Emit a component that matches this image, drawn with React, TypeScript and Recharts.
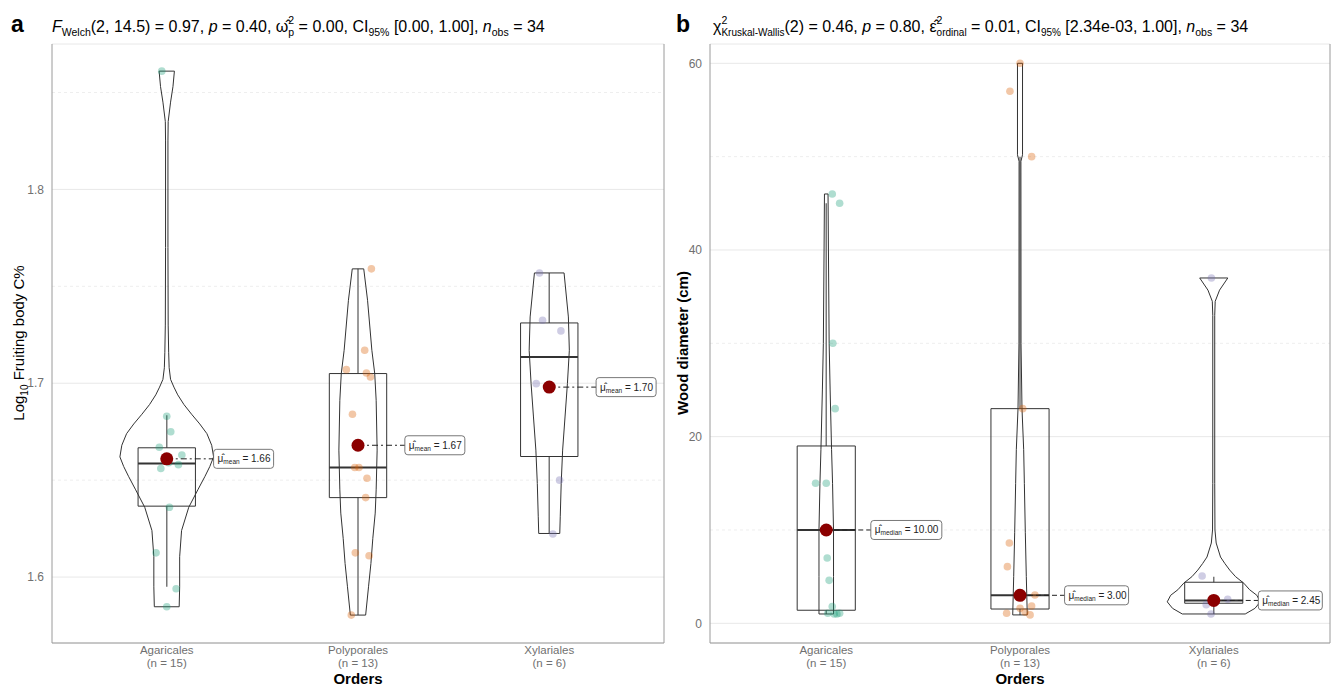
import React from 'react';
import { ComposedChart, Scatter, XAxis, YAxis, CartesianGrid, ReferenceLine } from 'recharts';

const FONT = '"Liberation Sans", Arial, Helvetica, sans-serif';

const orders = ['Agaricales', 'Polyporales', 'Xylariales'];
const orderCounts = [15, 13, 6];
const orderColors = ['#1b9e77', '#d95f02', '#7570b3'];

// ---- panel a: log10 fruiting body C% ----
const carbonValues = [
  [1.861, 1.683, 1.675, 1.667, 1.663, 1.658, 1.656, 1.636, 1.6125, 1.594, 1.5847, 1.659, 1.66, 1.662, 1.661],
  [1.759, 1.717, 1.707, 1.7053, 1.7032, 1.684, 1.6565, 1.6565, 1.651, 1.641, 1.6125, 1.611, 1.5804],
  [1.7569, 1.7325, 1.727, 1.6998, 1.65, 1.6222],
];
const carbonJitter = [
  [-0.026, 0, 0.021, -0.039, 0.079, 0.061, -0.031, 0.014, -0.056, 0.049, 0, 0.01, -0.01, 0.005, 0],
  [0.07, 0.035, -0.061, 0.044, 0.065, -0.029, -0.017, 0.005, 0.047, 0.04, -0.014, 0.058, -0.035],
  [-0.051, -0.035, 0.061, -0.068, 0.054, 0.019],
];
const carbonViolinY = [
  [1.5847, 1.595, 1.6105, 1.624, 1.636, 1.645, 1.652, 1.657, 1.662, 1.668, 1.674, 1.679, 1.684, 1.689, 1.694, 1.698, 1.702, 1.708, 1.716, 1.73, 1.77, 1.825, 1.835, 1.845, 1.853, 1.861],
  [1.5804, 1.595, 1.607, 1.62, 1.633, 1.645, 1.6655, 1.6912, 1.705, 1.717, 1.7428, 1.759],
  [1.6225, 1.6311, 1.6483, 1.6655, 1.6826, 1.6998, 1.717, 1.7342, 1.7569],
];
const carbonViolinWidth = [
  [0.26, 0.27, 0.27, 0.31, 0.46, 0.65, 0.8, 0.9, 0.98, 0.94, 0.84, 0.69, 0.52, 0.36, 0.23, 0.15, 0.08, 0.05, 0.04, 0.03, 0.025, 0.025, 0.03, 0.08, 0.13, 0.16],
  [0.16, 0.22, 0.27, 0.31, 0.36, 0.38, 0.4, 0.38, 0.35, 0.29, 0.2, 0.12],
  [0.22, 0.23, 0.25, 0.28, 0.33, 0.38, 0.42, 0.4, 0.31],
];
const carbonQ1 = [1.6366, 1.641, 1.6622];
const carbonMedian = [1.6586, 1.6565, 1.7136];
const carbonQ3 = [1.6667, 1.705, 1.7311];
const carbonWhiskerLow = [1.595, 1.5804, 1.6225];
const carbonWhiskerHigh = [1.6835, 1.759, 1.7569];
const carbonMean = [1.661, 1.668, 1.698];
const carbonMeanText = ['1.66', '1.67', '1.70'];
const carbonTicks = [1.6, 1.7, 1.8];
const carbonMinorTicks = [1.65, 1.75, 1.85];

// ---- panel b: wood diameter (cm) ----
const diameterValues = [
  [46, 45, 30, 23, 15, 15, 10, 10, 7, 4.6, 1.8, 1.07, 1.0, 1.07, 1.0],
  [60, 57, 50, 23, 8.6, 6.07, 3.03, 3.0, 1.85, 1.6, 1.2, 1.07, 0.9],
  [37, 5.07, 2.57, 2.4, 2.0, 1.0],
];
const diameterJitter = [
  [0.031, 0.069, 0.034, 0.046, -0.055, 0, 0, 0.01, 0.005, 0.015, 0.031, 0.008, 0.055, 0.069, 0.041],
  [0, -0.052, 0.06, 0.014, -0.055, -0.065, 0.077, 0, 0.06, 0, 0.026, -0.069, 0.052],
  [-0.012, -0.06, 0.072, 0, -0.039, -0.014],
];
const diameterViolinY = [
  [1.0, 5, 10, 15, 18.6, 25, 30, 40, 46],
  [0.9, 5, 9.7, 15, 18.6, 23, 30, 49.5, 50.2, 60],
  [1.0, 1.6, 2.3, 3.0, 3.6, 4.3, 5.0, 5.7, 6.4, 7.1, 8.6, 10, 15, 33, 34.5, 35.7, 37],
];
const diameterViolinWidth = [
  [0.15, 0.15, 0.15, 0.13, 0.11, 0.08, 0.06, 0.045, 0.037],
  [0.15, 0.13, 0.11, 0.09, 0.076, 0.041, 0.021, 0.019, 0.052, 0.052],
  [0.65, 0.85, 0.96, 0.89, 0.74, 0.62, 0.45, 0.33, 0.23, 0.14, 0.05, 0.025, 0.02, 0.02, 0.03, 0.12, 0.29],
];
const diameterQ1 = [1.4, 1.53, 2.15];
const diameterMedian = [10, 3.0, 2.45];
const diameterQ3 = [19, 23, 4.4];
const diameterWhiskerLow = [1.0, 0.9, 1.0];
const diameterWhiskerHigh = [45, 50, 5.0];
const diameterMedianText = ['10.00', '3.00', '2.45'];
const diameterTicks = [0, 20, 40, 60];
const diameterMinorTicks = [10, 30, 50];

type Pt = { x: number; y: number };

const noShape = () => <g />;

const seg = (x1: number, y1: number, x2: number, y2: number): Pt[] => [
  { x: x1, y: y1 },
  { x: x2, y: y2 },
];

const violinOutline = (c: number, ys: number[], ws: number[], scale: number): Pt[] => {
  const right = ys.map((y, i) => ({ x: c + ws[i] * scale, y }));
  const left = ys.map((y, i) => ({ x: c - ws[i] * scale, y })).reverse();
  return [...right, ...left, right[0]];
};

const OrderTick = (props: any) => {
  const { x, y, payload } = props;
  const i = Math.round(payload.value) - 1;
  return (
    <g fontFamily={FONT} fontSize={11.5} fill="#707070">
      <text x={x} y={y + 3} textAnchor="middle">{orders[i]}</text>
      <text x={x} y={y + 15.5} textAnchor="middle">{`(n = ${orderCounts[i]})`}</text>
    </g>
  );
};

type PanelProps = {
  left: number;
  width: number;
  yAxisWidth: number;
  marginRight: number;
  domain: [number, number];
  ticks: number[];
  minorTicks: number[];
  values: number[][];
  jitter: number[][];
  violinY: number[][];
  violinW: number[][];
  q1: number[];
  median: number[];
  q3: number[];
  whiskerLow: number[];
  whiskerHigh: number[];
  centre: number[];
  centreText: string[];
  centreName: string;
  labelOffset: number;
  labelWidths: number[];
  dash: string;
  tickFormat: (v: number) => string;
};

function Panel(p: PanelProps) {
  const boxHalf = 0.15;
  const violinScale = 0.25;
  const lineCol = '#333';
  return (
    <div style={{ position: 'absolute', left: p.left, top: 0 }}>
      <ComposedChart width={p.width} height={689} margin={{ top: 44, right: p.marginRight, bottom: 0, left: 0 }}>
        <CartesianGrid vertical={false} stroke="#e8e8e8" />
        {p.minorTicks.map((v) => (
          <ReferenceLine key={'m' + v} y={v} stroke="#eeeeee" strokeDasharray="3 3" />
        ))}
        <XAxis
          type="number"
          dataKey="x"
          domain={[0.4, 3.6]}
          ticks={[1, 2, 3]}
          allowDataOverflow
          height={46}
          tickLine={false}
          axisLine={{ stroke: '#9a9a9a' }}
          tick={<OrderTick />}
          interval={0}
        />
        <YAxis
          type="number"
          dataKey="y"
          domain={p.domain}
          ticks={p.ticks}
          allowDataOverflow
          width={p.yAxisWidth}
          tickLine={false}
          axisLine={{ stroke: '#9a9a9a' }}
          tick={{ fill: '#707070', fontSize: 12, fontFamily: FONT }}
          tickFormatter={p.tickFormat}
        />
        <ReferenceLine x={3.6} stroke="#9a9a9a" />

        {orders.map((_, i) => {
          const c = i + 1;
          const box: Pt[] = [
            { x: c - boxHalf, y: p.q1[i] },
            { x: c + boxHalf, y: p.q1[i] },
            { x: c + boxHalf, y: p.q3[i] },
            { x: c - boxHalf, y: p.q3[i] },
            { x: c - boxHalf, y: p.q1[i] },
          ];
          return [
            <Scatter key={'wl' + i} data={seg(c, p.whiskerLow[i], c, p.q1[i])} line={{ stroke: '#777', strokeWidth: 1.5 }} shape={noShape} isAnimationActive={false} />,
            <Scatter key={'wh' + i} data={seg(c, p.q3[i], c, p.whiskerHigh[i])} line={{ stroke: '#777', strokeWidth: 1.5 }} shape={noShape} isAnimationActive={false} />,
            <Scatter key={'box' + i} data={box} line={{ stroke: lineCol, strokeWidth: 1 }} shape={noShape} isAnimationActive={false} />,
            <Scatter key={'med' + i} data={seg(c - boxHalf, p.median[i], c + boxHalf, p.median[i])} line={{ stroke: lineCol, strokeWidth: 2 }} shape={noShape} isAnimationActive={false} />,
          ];
        })}

        {orders.map((_, i) => (
          <Scatter
            key={'vio' + i}
            data={violinOutline(i + 1, p.violinY[i], p.violinW[i], violinScale)}
            line={{ stroke: lineCol, strokeWidth: 1 }}
            shape={noShape}
            isAnimationActive={false}
          />
        ))}

        {orders.map((_, i) => (
          <Scatter
            key={'pts' + i}
            data={p.values[i].map((v, j) => ({ x: i + 1 + p.jitter[i][j], y: v }))}
            shape={(s: any) => <circle cx={s.cx} cy={s.cy} r={3.8} fill={orderColors[i]} fillOpacity={0.35} />}
            isAnimationActive={false}
          />
        ))}

        {orders.map((_, i) => (
          <Scatter
            key={'con' + i}
            data={seg(i + 1, p.centre[i], i + 1 + p.labelOffset, p.centre[i])}
            line={{ stroke: '#222', strokeWidth: 1, strokeDasharray: p.dash }}
            shape={noShape}
            isAnimationActive={false}
          />
        ))}

        <Scatter
          data={p.centre.map((v, i) => ({ x: i + 1, y: v }))}
          shape={(s: any) => <circle cx={s.cx} cy={s.cy} r={6.5} fill="#8b0000" />}
          isAnimationActive={false}
        />

        {orders.map((_, i) => (
          <Scatter
            key={'lab' + i}
            data={[{ x: i + 1 + p.labelOffset, y: p.centre[i] }]}
            shape={(s: any) => (
              <g>
                <rect x={s.cx} y={s.cy - 9.5} width={p.labelWidths[i]} height={19} rx={3} fill="#fff" stroke="#555" strokeWidth={0.8} />
                <text x={s.cx + 4} y={s.cy + 3.5} fontSize={10} fontFamily={FONT} fill="#222" style={{ whiteSpace: 'pre' }}>
                  {'\u03bc\u0302'}
                  <tspan fontSize={6.5} dy={2}>{p.centreName}</tspan>
                  <tspan fontSize={10} dy={-2}>{' = ' + p.centreText[i]}</tspan>
                </text>
              </g>
            )}
            isAnimationActive={false}
          />
        ))}
      </ComposedChart>
    </div>
  );
}

export default function App() {
  return (
    <div style={{ position: 'absolute', left: 0, top: 0, width: 1339, height: 689, background: '#fff', fontFamily: FONT }}>
      <Panel
        left={0}
        width={670}
        yAxisWidth={52}
        marginRight={6}
        domain={[1.566, 1.875]}
        ticks={carbonTicks}
        minorTicks={carbonMinorTicks}
        values={carbonValues}
        jitter={carbonJitter}
        violinY={carbonViolinY}
        violinW={carbonViolinWidth}
        q1={carbonQ1}
        median={carbonMedian}
        q3={carbonQ3}
        whiskerLow={carbonWhiskerLow}
        whiskerHigh={carbonWhiskerHigh}
        centre={carbonMean}
        centreText={carbonMeanText}
        centreName="mean"
        labelOffset={0.245}
        labelWidths={[60, 60, 60]}
        dash="6 3 2 3"
        tickFormat={(v) => v.toFixed(1)}
      />
      <Panel
        left={670}
        width={669}
        yAxisWidth={40}
        marginRight={9}
        domain={[-2.11, 62.07]}
        ticks={diameterTicks}
        minorTicks={diameterMinorTicks}
        values={diameterValues}
        jitter={diameterJitter}
        violinY={diameterViolinY}
        violinW={diameterViolinWidth}
        q1={diameterQ1}
        median={diameterMedian}
        q3={diameterQ3}
        whiskerLow={diameterWhiskerLow}
        whiskerHigh={diameterWhiskerHigh}
        centre={diameterMedian}
        centreText={diameterMedianText}
        centreName="median"
        labelOffset={0.23}
        labelWidths={[71, 64, 64]}
        dash="5 3"
        tickFormat={(v) => String(v)}
      />

      <svg width={1339} height={689} style={{ position: 'absolute', left: 0, top: 0, pointerEvents: 'none' }} fontFamily={FONT}>
        <text x={11} y={32} fontSize={23} fontWeight="bold">a</text>
        <text x={52} y={32} fontSize={16} fill="#000" style={{ whiteSpace: 'pre' }}>
          <tspan fontStyle="italic">F</tspan>
          <tspan fontSize={10.5} dy={4}>Welch</tspan>
          <tspan dy={-4}>{'(2, 14.5) = 0.97, '}</tspan>
          <tspan fontStyle="italic">p</tspan>
          <tspan>{' = 0.40, '}</tspan>
          <tspan>{'\u03c9\u0302'}</tspan>
          <tspan fontSize={10.5} dy={-8}>2</tspan>
          <tspan fontSize={10.5} dx={-5.8} dy={12}>p</tspan>
          <tspan dy={-4}>{' = 0.00, CI'}</tspan>
          <tspan fontSize={10.5} dy={4}>95%</tspan>
          <tspan dy={-4}>{' [0.00, 1.00], '}</tspan>
          <tspan fontStyle="italic">n</tspan>
          <tspan fontSize={10.5} dy={4}>obs</tspan>
          <tspan dy={-4}>{' = 34'}</tspan>
        </text>

        <text x={676} y={32} fontSize={23} fontWeight="bold">b</text>
        <text x={713} y={32} fontSize={16} fill="#000" style={{ whiteSpace: 'pre' }}>
          <tspan>{'\u03c7'}</tspan>
          <tspan fontSize={10.5} dy={-8}>2</tspan>
          <tspan fontSize={10} dx={-5.8} dy={12}>Kruskal-Wallis</tspan>
          <tspan dy={-4}>{'(2) = 0.46, '}</tspan>
          <tspan fontStyle="italic">p</tspan>
          <tspan>{' = 0.80, '}</tspan>
          <tspan>{'\u03b5\u0302'}</tspan>
          <tspan fontSize={10.5} dy={-8}>2</tspan>
          <tspan fontSize={10} dx={-5.8} dy={12}>ordinal</tspan>
          <tspan dy={-4}>{' = 0.01, CI'}</tspan>
          <tspan fontSize={10} dy={4}>95%</tspan>
          <tspan dy={-4}>{' [2.34e-03, 1.00], '}</tspan>
          <tspan fontStyle="italic">n</tspan>
          <tspan fontSize={10.5} dy={4}>obs</tspan>
          <tspan dy={-4}>{' = 34'}</tspan>
        </text>

        <text transform="translate(24,343) rotate(-90)" textAnchor="middle" fontSize={15} style={{ whiteSpace: 'pre' }}>
          <tspan>Log</tspan>
          <tspan fontSize={10} dy={4}>10</tspan>
          <tspan dy={-4}>{' Fruiting body C%'}</tspan>
        </text>
        <text transform="translate(688,343) rotate(-90)" textAnchor="middle" fontSize={15} fontWeight="bold">
          Wood diameter (cm)
        </text>

        <text x={358} y={684} textAnchor="middle" fontSize={15} fontWeight="bold">Orders</text>
        <text x={1020} y={684} textAnchor="middle" fontSize={15} fontWeight="bold">Orders</text>
      </svg>
    </div>
  );
}
